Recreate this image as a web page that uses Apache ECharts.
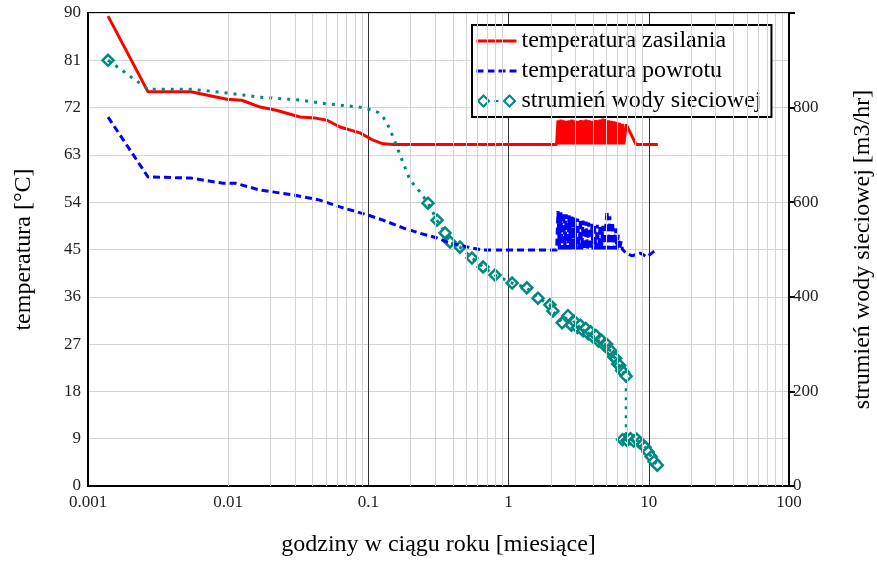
<!DOCTYPE html>
<html>
<head>
<meta charset="utf-8">
<script src="https://cdn.jsdelivr.net/npm/echarts@6/dist/echarts.min.js"></script>
<style>
    html, body { margin: 0; padding: 0; background: #fff; }
    #chart { width: 877px; height: 563px; }
</style>
</head>
<body>
<div id="chart"></div>
<script>
    // temperatura zasilania [°C]
    var redX = [0.00139, 0.00268, 0.0054, 0.0098, 0.0125, 0.0169, 0.022, 0.0325, 0.042, 0.0507, 0.0627, 0.0871, 0.108, 0.127, 0.15, 0.5, 1.0, 2.2,
        2.25, 2.30, 2.36, 2.41, 2.47, 2.52, 2.58, 2.64, 2.70, 2.77, 2.83, 2.90, 2.97, 3.03, 3.11, 3.18, 3.25, 3.33, 3.40, 3.48, 3.57, 3.65,
        3.73, 3.82, 3.91, 4.00, 4.09, 4.19, 4.29, 4.39, 4.49, 4.59, 4.70, 4.81, 4.92, 5.04, 5.15, 5.27, 5.40, 5.52, 5.65, 5.78, 5.92, 6.05,
        6.19, 6.34, 6.49, 6.64,
        6.9, 8.1, 11.6];
    var redY = [89.4, 75, 75, 73.6, 73.4, 72.1, 71.5, 70.2, 70.0, 69.6, 68.3, 67.2, 65.8, 65.1, 65, 65, 65, 65,
        69.6, 65, 69.7, 65, 69.6, 65, 69.5, 65, 69.6, 65, 69.7, 65, 69.6, 65, 69.5, 65, 69.6, 65, 69.6, 65, 69.7, 65,
        69.6, 65, 69.5, 65, 69.6, 65, 69.6, 65, 69.7, 65, 69.9, 65, 69.8, 65, 69.6, 65, 69.5, 65, 69.4, 65, 69.3, 65,
        69.1, 65, 68.9, 65,
        68.8, 65, 65];

    // temperatura powrotu [°C]
    var blueX = [0.00139, 0.00268, 0.0054, 0.0092, 0.0113, 0.0169, 0.029, 0.045, 0.0627, 0.0977, 0.127, 0.177, 0.233, 0.309, 0.382, 0.548, 0.657, 1.0, 2.2,
        2.25, 2.30, 2.36, 2.41, 2.47, 2.52, 2.58, 2.64, 2.70, 2.77, 2.83, 2.90, 2.97, 3.03, 3.11, 3.18, 3.25, 3.33, 3.40, 3.48, 3.57, 3.65,
        3.73, 3.82, 3.91, 4.00, 4.09, 4.19, 4.29, 4.39, 4.49, 4.59, 4.70, 4.81, 4.92, 5.04, 5.15, 5.27, 5.40, 5.52, 5.65, 5.78, 5.92, 6.05,
        6.19, 6.34, 6.49, 6.64,
        6.9, 7.6, 8.7, 9.7, 11.2, 11.6];
    var blueY = [70.2, 58.8, 58.6, 57.6, 57.6, 56.3, 55.4, 54.4, 53.1, 51.6, 50.6, 49.1, 48.1, 47.2, 46.2, 45.3, 44.9, 44.9, 44.9,
        52.3, 45, 52.1, 45, 51.9, 45, 51.7, 45, 51.5, 45, 51.3, 45, 51.1, 45, 50.9, 45, 50.7, 45, 50.5, 45,
        50.3, 45, 50.1, 45, 49.9, 45, 49.8, 45, 49.7, 45, 49.6, 45, 49.5, 45, 49.3, 52.3, 45, 51.3, 45, 50.2, 45, 49.0,
        45, 47.8, 45, 46.5, 45,
        44.9, 44.3, 43.8, 44.3, 43.6, 44.9];

    // strumień wody sieciowej [m3/hr]
    var tealX = [0.00139, 0.00268, 0.0054, 0.0098, 0.0169, 0.0325, 0.0507, 0.0871, 0.0977, 0.117, 0.127, 0.136, 0.150, 0.163, 0.177, 0.198, 0.233,
        0.266, 0.309, 0.352, 0.382, 0.450, 0.548, 0.657, 0.800, 1.06, 1.35, 1.62, 1.97, 2.07, 2.41, 2.65, 2.80, 2.95, 3.10, 3.25, 3.40, 3.55, 3.70,
        3.85, 4.00, 4.20, 4.40, 4.60, 4.80, 5.00, 5.20, 5.40, 5.60, 5.80, 6.00, 6.20, 6.40, 6.60, 6.90,
        6.90, 6.50, 7.00, 7.40, 7.80, 8.20, 8.60, 9.00, 9.40, 9.90, 10.4, 10.9, 11.5];
    var tealY = [900, 839, 839, 831, 822, 816, 808, 801, 798, 790, 780, 767, 738, 710, 683, 647, 622,
        598, 562, 535, 516, 505, 482, 463, 446, 429, 419, 397, 383, 370, 345, 360, 340, 348, 335, 340, 328, 333, 322,
        326, 315, 318, 306, 308, 298, 300, 288, 285, 273, 270, 258, 255, 244, 240, 232,
        100, 98, 96, 100, 95, 99, 92, 88, 82, 72, 62, 52, 44];

    var xTicks = [0.001, 0.01, 0.1, 1, 10, 100];

    var names = ['temperatura zasilania', 'temperatura powrotu', 'strumień wody sieciowej'];
    var teal = '#00897f';
    var serif = 'Liberation Serif';

    function zip(xs, ys) {
        return xs.map(function (x, i) { return [x, ys[i]]; });
    }

    // minor grid lines 2..9 in each decade
    var minorTicks = [];
    for (var d = 0; d < xTicks.length - 1; d++) {
        for (var m = 2; m <= 9; m++) {
            minorTicks.push({xAxis: +(xTicks[d] * m).toPrecision(3)});
        }
    }

    var tealData = zip(tealX, tealY);
    var tealMarks = tealData.filter(function (p, i) { return i === 0 || i >= 17; });

    var chart = echarts.init(document.getElementById('chart'));
    var option = {
        animation: false,
        backgroundColor: '#fff',
        grid: {
            left: 88, right: 88, top: 13, bottom: 77,
            outerBoundsMode: 'none',
            show: true,
            borderColor: '#000',
            borderWidth: 2
        },
        legend: {
            orient: 'vertical',
            left: 472,
            top: 25,
            padding: [4, 10, 4, 3],
            itemWidth: 40,
            itemHeight: 14,
            itemGap: 6,
            backgroundColor: '#fff',
            borderColor: '#000',
            borderWidth: 2,
            textStyle: {fontFamily: serif, fontSize: 24, color: '#000', lineHeight: 24},
            data: [
                {name: names[0], itemStyle: {opacity: 0}, lineStyle: {width: 3}},
                {name: names[1], itemStyle: {opacity: 0}, lineStyle: {width: 3}},
                {
                    name: names[2],
                    icon: 'path://M7,0L14,7L7,14L0,7ZM7,3L3,7L7,11L11,7ZM33,0L40,7L33,14L26,7ZM33,3L29,7L33,11L37,7ZM18,6H22V8H18Z',
                    itemStyle: {color: teal}
                }
            ]
        },
        xAxis: {
            type: 'log',
            logBase: 10,
            min: 0.001,
            max: 100,
            name: 'godziny w ciągu roku [miesiące]',
            nameLocation: 'middle',
            nameGap: 47,
            nameTextStyle: {fontFamily: serif, fontSize: 24, color: '#000'},
            axisLine: {lineStyle: {color: '#000', width: 2}},
            axisTick: {show: false},
            axisLabel: {
                fontFamily: serif, fontSize: 17, color: '#222', margin: 8,
                formatter: function (v) { return String(+(+v).toPrecision(3)); }
            },
            splitLine: {show: true, lineStyle: {color: '#333', width: 1}}
        },
        yAxis: [
            {
                type: 'value',
                min: 0,
                max: 90,
                interval: 9,
                name: 'temperatura [°C]',
                nameLocation: 'middle',
                nameGap: 52,
                nameTextStyle: {fontFamily: serif, fontSize: 24, color: '#000'},
                axisLine: {show: true, lineStyle: {color: '#000', width: 2}},
                axisTick: {show: false},
                axisLabel: {fontFamily: serif, fontSize: 17, color: '#222', margin: 7},
                splitLine: {show: true, lineStyle: {color: '#d3d3d3', width: 1}}
            },
            {
                type: 'value',
                position: 'right',
                min: 0,
                max: 1000,
                interval: 200,
                name: 'strumień wody sieciowej [m3/hr]',
                nameLocation: 'middle',
                nameGap: 62,
                nameRotate: 90,
                nameTextStyle: {fontFamily: serif, fontSize: 24, color: '#000'},
                axisLine: {show: true, lineStyle: {color: '#000', width: 2}},
                axisTick: {show: true, length: 6, lineStyle: {color: '#000', width: 2}},
                axisLabel: {
                    fontFamily: serif, fontSize: 17, color: '#222', margin: 4,
                    formatter: function (v) { return v === 1000 ? '' : v; }
                },
                splitLine: {show: false}
            }
        ],
        series: [
            {
                name: 'grid',
                type: 'line',
                z: 0,
                silent: true,
                data: [],
                markLine: {
                    silent: true,
                    symbol: ['none', 'none'],
                    label: {show: false},
                    lineStyle: {color: '#d3d3d3', type: 'solid', width: 1},
                    data: minorTicks
                }
            },
            {
                name: names[0],
                type: 'line',
                symbol: 'none',
                color: '#ff0000',
                lineStyle: {color: '#ff0000', width: 3},
                data: zip(redX, redY)
            },
            {
                name: names[1],
                type: 'line',
                symbol: 'none',
                color: '#0000ff',
                lineStyle: {color: '#0000ff', width: 3, type: [7, 4]},
                data: zip(blueX, blueY)
            },
            {
                name: names[2],
                type: 'line',
                yAxisIndex: 1,
                symbol: 'none',
                color: teal,
                lineStyle: {color: teal, width: 3, type: [3, 6]},
                data: tealData
            },
            {
                name: 'marks',
                type: 'scatter',
                yAxisIndex: 1,
                symbol: 'diamond',
                symbolSize: 11,
                itemStyle: {color: '#fff', borderColor: teal, borderWidth: 2.5, opacity: 1},
                data: tealMarks
            }
        ]
    };
    chart.setOption(option);
</script>
</body>
</html>
